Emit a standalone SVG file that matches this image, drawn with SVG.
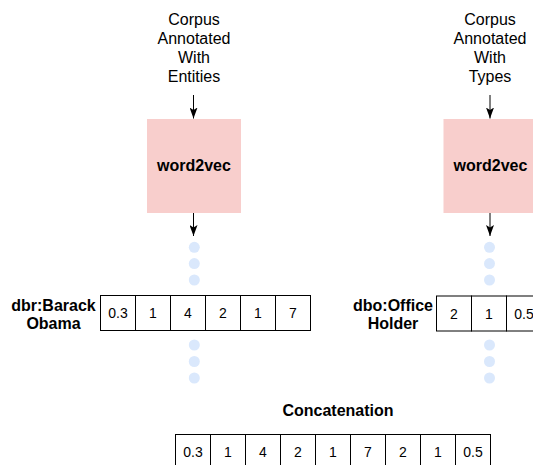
<svg xmlns="http://www.w3.org/2000/svg" width="533" height="465" viewBox="0 0 533 465">
  <style>
    text { font-family: "Liberation Sans", Arial, sans-serif; fill: #000; }
    .corpus { font-size: 16px; text-anchor: middle; }
    .bold { font-size: 16px; font-weight: bold; text-anchor: middle; }
    .cell rect { fill: #fff; stroke: #000; stroke-width: 1; }
    .cell text { font-size: 14px; text-anchor: middle; }
    .model { fill: #f8cecc; stroke: none; }
    .dot { fill: #dae8fc; }
    .edge { stroke: #000; stroke-width: 1; fill: none; marker-end: url(#arrow); }
  </style>
  <defs>
    <marker id="arrow" viewBox="0 0 11 8" refX="11" refY="4" markerWidth="11" markerHeight="8" markerUnits="userSpaceOnUse" orient="auto">
      <path d="M0,0 L11,4 L0,8 L2.5,4 Z" fill="#000"/>
    </marker>
  </defs>

  <rect width="533" height="465" fill="#fff"/>

  <!-- corpus labels -->
  <g id="corpus-entities">
    <text class="corpus" x="194" y="25">Corpus</text>
    <text class="corpus" x="194" y="44">Annotated</text>
    <text class="corpus" x="194" y="63">With</text>
    <text class="corpus" x="194" y="82">Entities</text>
  </g>
  <g id="corpus-types">
    <text class="corpus" x="490" y="25">Corpus</text>
    <text class="corpus" x="490" y="44">Annotated</text>
    <text class="corpus" x="490" y="63">With</text>
    <text class="corpus" x="490" y="82">Types</text>
  </g>

  <!-- word2vec models -->
  <g id="w2v-entities">
    <rect class="model" x="147" y="119" width="94" height="94"/>
    <text class="bold" x="194" y="171">word2vec</text>
  </g>
  <g id="w2v-types">
    <rect class="model" x="443.5" y="119" width="94" height="94"/>
    <text class="bold" x="490.5" y="171">word2vec</text>
  </g>

  <!-- connectors -->
  <g id="connectors">
    <path class="edge" d="M193.5,95 V118.5"/>
    <path class="edge" d="M490,95 V118.5"/>
    <path class="edge" d="M193.5,213 V236"/>
    <path class="edge" d="M490,213 V236"/>
  </g>

  <!-- ellipsis dots -->
  <g id="dots-entities">
    <circle class="dot" cx="194.3" cy="247.3" r="5.5"/>
    <circle class="dot" cx="194.3" cy="263.6" r="5.5"/>
    <circle class="dot" cx="194.3" cy="280" r="5.5"/>
    <circle class="dot" cx="194.3" cy="345" r="5.5"/>
    <circle class="dot" cx="194.3" cy="361.5" r="5.5"/>
    <circle class="dot" cx="194.3" cy="378" r="5.5"/>
  </g>
  <g id="dots-types">
    <circle class="dot" cx="489.5" cy="247.3" r="5.5"/>
    <circle class="dot" cx="489.5" cy="263.6" r="5.5"/>
    <circle class="dot" cx="489.5" cy="280" r="5.5"/>
    <circle class="dot" cx="489.5" cy="345" r="5.5"/>
    <circle class="dot" cx="489.5" cy="361.5" r="5.5"/>
    <circle class="dot" cx="489.5" cy="378" r="5.5"/>
  </g>

  <!-- entity vector -->
  <g id="label-entity">
    <text class="bold" x="53.5" y="311">dbr:Barack</text>
    <text class="bold" x="53.5" y="329">Obama</text>
  </g>
  <g id="vector-entity" class="cell">
    <rect x="100.5" y="295.5" width="35" height="35"/><text x="118" y="318">0.3</text>
    <rect x="135.5" y="295.5" width="35" height="35"/><text x="153" y="318">1</text>
    <rect x="170.5" y="295.5" width="35" height="35"/><text x="188" y="318">4</text>
    <rect x="205.5" y="295.5" width="35" height="35"/><text x="223" y="318">2</text>
    <rect x="240.5" y="295.5" width="35" height="35"/><text x="258" y="318">1</text>
    <rect x="275.5" y="295.5" width="35" height="35"/><text x="293" y="318">7</text>
  </g>

  <!-- type vector -->
  <g id="label-type">
    <text class="bold" x="393" y="311">dbo:Office</text>
    <text class="bold" x="393" y="329">Holder</text>
  </g>
  <g id="vector-type" class="cell">
    <rect x="436.5" y="296" width="35" height="35"/><text x="454" y="318.5">2</text>
    <rect x="471.5" y="296" width="35" height="35"/><text x="489" y="318.5">1</text>
    <rect x="506.5" y="296" width="35" height="35"/><text x="524" y="318.5">0.5</text>
  </g>

  <!-- concatenated vector -->
  <g id="label-concat">
    <text class="bold" x="338" y="416">Concatenation</text>
  </g>
  <g id="vector-concat" class="cell">
    <rect x="175.5" y="434.5" width="35" height="35"/><text x="193" y="457">0.3</text>
    <rect x="210.5" y="434.5" width="35" height="35"/><text x="228" y="457">1</text>
    <rect x="245.5" y="434.5" width="35" height="35"/><text x="263" y="457">4</text>
    <rect x="280.5" y="434.5" width="35" height="35"/><text x="298" y="457">2</text>
    <rect x="315.5" y="434.5" width="35" height="35"/><text x="333" y="457">1</text>
    <rect x="350.5" y="434.5" width="35" height="35"/><text x="368" y="457">7</text>
    <rect x="385.5" y="434.5" width="35" height="35"/><text x="403" y="457">2</text>
    <rect x="420.5" y="434.5" width="35" height="35"/><text x="438" y="457">1</text>
    <rect x="455.5" y="434.5" width="35" height="35"/><text x="473" y="457">0.5</text>
  </g>
</svg>
